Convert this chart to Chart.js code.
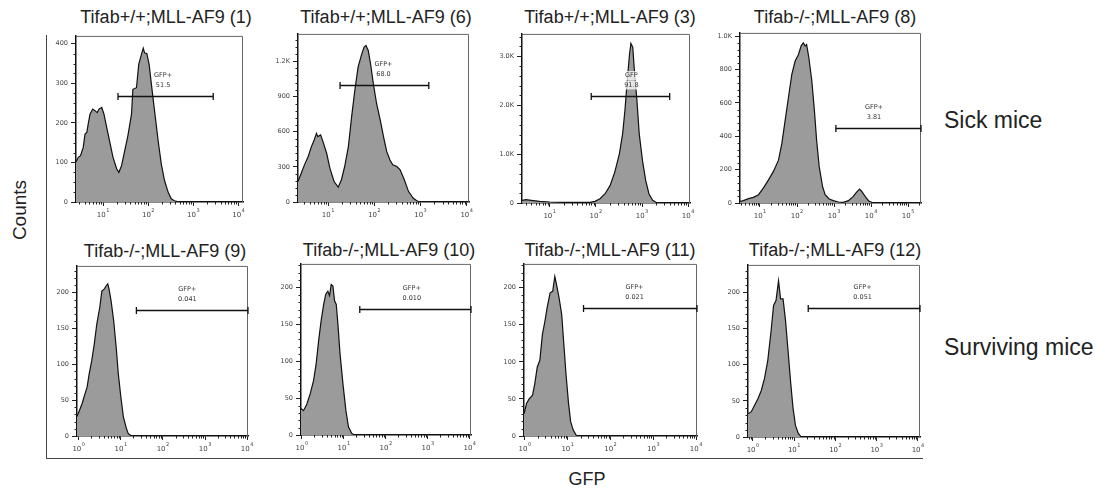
<!DOCTYPE html>
<html>
<head>
<meta charset="utf-8">
<script src="https://cdn.jsdelivr.net/npm/chart.js@4.4.1/dist/chart.umd.min.js"></script>
<style>
body{margin:0;background:#fff;}
#fig{position:relative;width:1105px;height:490px;overflow:hidden;font-family:"Liberation Sans",Arial,sans-serif;color:#222;}
#fig canvas{position:absolute;}
.t{position:absolute;font-size:18px;white-space:nowrap;transform:translateX(-50%);line-height:normal;}
.side{position:absolute;font-size:23px;white-space:nowrap;line-height:normal;}
#frame{position:absolute;left:46px;top:35px;width:876px;height:423px;border-left:1.5px solid #444;border-bottom:1.5px solid #444;}
</style>
</head>
<body>
<div id="fig">
<div id="frame"></div>
<div class="side" style="left:20px;top:210px;font-size:19px;transform:translate(-50%,-50%) rotate(-90deg);">Counts</div>
<div class="t" style="left:587px;top:469px;">GFP</div>
<div class="side" style="left:944px;top:107px;">Sick mice</div>
<div class="side" style="left:944px;top:334px;">Surviving mice</div>
</div>
<script>
const titles=["Tifab+/+;MLL-AF9 (1)","Tifab+/+;MLL-AF9 (6)","Tifab+/+;MLL-AF9 (3)","Tifab-/-;MLL-AF9 (8)",
"Tifab-/-;MLL-AF9 (9)","Tifab-/-;MLL-AF9 (10)","Tifab-/-;MLL-AF9 (11)","Tifab-/-;MLL-AF9 (12)"];

// GFP on log10 scale (decades), counts per bin
const x1=[0.40,0.45,0.50,0.56,0.60,0.64,0.67,0.71,0.77,0.82,0.87,0.91,0.97,1.02,1.08,1.15,1.22,1.30,1.35,1.41,1.48,1.55,1.63,1.66,1.74,1.79,1.83,1.89,1.92,1.97,2.02,2.07,2.14,2.22,2.29,2.36,2.44,2.51,2.58,2.69,4.10];
const c1=[101,113,117,138,172,176,197,222,235,231,226,235,239,222,189,151,113,84,75,92,130,168,222,285,289,348,365,389,377,375,348,298,231,155,96,55,25,8,3,0,0];
const x2=[0.35,0.42,0.49,0.57,0.64,0.70,0.75,0.78,0.84,0.89,0.97,1.04,1.13,1.22,1.29,1.36,1.44,1.51,1.58,1.65,1.73,1.78,1.82,1.87,1.92,1.98,2.05,2.13,2.20,2.27,2.34,2.40,2.49,2.56,2.65,2.74,2.84,2.92,2.99,4.05];
const c2=[175,246,317,388,473,529,586,558,572,515,416,289,175,127,190,303,473,727,954,1152,1265,1322,1336,1293,1180,1010,841,699,558,430,359,317,303,275,190,91,34,11,0,0];
const x3=[0.40,0.49,0.60,0.78,1.00,1.29,1.65,1.87,1.98,2.09,2.20,2.31,2.41,2.51,2.58,2.63,2.68,2.73,2.76,2.80,2.83,2.89,2.94,3.01,3.08,3.15,3.23,3.32,3.43,4.04];
const c3=[54,68,54,34,20,14,14,14,34,88,190,360,632,1006,1414,1890,2502,3046,3264,3182,2774,2094,1414,870,462,190,54,7,0,0];
const x4=[0.46,0.55,0.69,0.82,0.96,1.09,1.23,1.36,1.50,1.59,1.68,1.77,1.86,1.95,2.04,2.11,2.17,2.22,2.26,2.32,2.40,2.47,2.53,2.60,2.69,2.76,2.87,2.98,3.12,3.25,3.39,3.52,3.61,3.69,3.75,3.84,3.93,4.06,5.35];
const c4=[10,14,26,34,50,89,139,188,257,356,495,634,772,851,891,941,960,941,950,871,733,554,376,218,99,50,24,14,6,4,14,40,65,83,69,40,14,0,0];
const x5=[-0.04,0.02,0.08,0.14,0.20,0.25,0.31,0.37,0.43,0.50,0.55,0.61,0.65,0.69,0.72,0.77,0.83,0.89,0.94,1.00,1.06,1.13,1.18,1.26,4.02];
const c5=[27,36,45,57,68,87,105,128,156,179,202,205,209,212,205,188,161,124,87,55,27,11,3,0,0];
const x6=[-0.02,0.04,0.12,0.20,0.28,0.34,0.40,0.46,0.52,0.57,0.62,0.66,0.70,0.74,0.78,0.82,0.86,0.91,0.98,1.05,1.11,1.19,1.27,4.03];
const c6=[36,33,42,56,74,96,128,155,177,191,195,189,204,202,182,177,150,110,69,33,11,2,0,0];
const x7=[-0.02,0.04,0.10,0.18,0.23,0.29,0.35,0.41,0.47,0.52,0.59,0.65,0.70,0.74,0.80,0.86,0.91,0.96,1.02,1.07,1.13,1.21,4.02];
const c7=[30,44,50,55,70,93,102,137,155,173,193,195,215,204,186,164,124,84,44,19,8,0,0];
const x8=[-0.12,-0.04,0.04,0.12,0.20,0.28,0.36,0.44,0.50,0.56,0.62,0.67,0.73,0.79,0.85,0.91,0.97,1.03,1.10,1.17,4.05];
const c8=[32,35,44,53,64,81,106,147,182,189,216,191,191,161,120,78,41,16,5,0,0];

const gateNames=["GFP+","GFP+","GFP","GFP+","GFP+","GFP+","GFP+","GFP+"];
const gateValues=["51.5","68.0","91.8","3.81","0.041","0.010","0.021","0.051"];
const gateFrom=[1.33,1.26,1.90,3.05,1.37,1.38,1.37,1.34];
const gateTo=[3.44,3.18,3.60,5.35,4.02,4.03,4.02,4.05];
const gateAt=[268,1000,2190,450,176,171,172,178];
const gateLabelX=[2.33,2.20,2.77,4.08,2.58,2.62,2.56,2.66];

const xMin=[0.40,0.35,0.40,0.46,-0.04,-0.02,-0.02,-0.12];
const xMax=[4.10,4.05,4.04,5.35,4.02,4.03,4.02,4.05];
const yMax=[420,1435,3457,1020,237,232,232,238];

const decadeBase="10";
const decadeExp=["0","1","2","3","4","5"];
const xTicks=[[1,2,3,4],[1,2,3,4],[1,2,3,4],[1,2,3,4,5],[0,1,2,3,4],[0,1,2,3,4],[0,1,2,3,4],[0,1,2,3,4]];
const yTicks=[[0,100,200,300,400],[0,300,600,900,1200],[0,1000,2000,3000],[0,200,400,600,800,1000],
[0,50,100,150,200],[0,50,100,150,200],[0,50,100,150,200],[0,50,100,150,200]];
const yTickLabels=[["0","100","200","300","400"],["0","300","600","900","1.2K"],["0","1.0K","2.0K","3.0K"],
["0","200","400","600","800","1.0K"],["0","50","100","150","200"],["0","50","100","150","200"],["0","50","100","150","200"],["0","50","100","150","200"]];
const yMinor=[25,60,200,40,10,10,10,10];

const xs=[x1,x2,x3,x4,x5,x6,x7,x8];
const cs=[c1,c2,c3,c4,c5,c6,c7,c8];

// plot area boxes: left, top, right, bottom
const boxes=[[76,35,243,202],[298,33,469,202],[522,33,690,203],[740,32,921,203],
[77,265,248,436],[301,263,471,435],[524,263,697,436],[748,264,920,437]];
const titleX=[166,386,610,835,165,389,610,835];
const titleTop=[7,7,7,7,241,240,240,240];

Chart.defaults.font.family='"DejaVu Sans", sans-serif';
Chart.defaults.color='#444';

const framePlugin={
id:'frame',
afterDraw(chart){
const {ctx,chartArea:a,scales:{x,y}}=chart;
const p=chart.options.plugins.frame;
ctx.save();
ctx.strokeStyle='#666';ctx.lineWidth=1;
ctx.beginPath();
ctx.moveTo(a.left,a.top+0.5);ctx.lineTo(a.right-0.5,a.top+0.5);ctx.lineTo(a.right-0.5,a.bottom);
ctx.stroke();
ctx.strokeStyle='#222';ctx.lineWidth=1;
ctx.beginPath();
for(let n=Math.floor(x.min);n<=Math.ceil(x.max);n++){
for(let k=2;k<=9;k++){
const v=n+Math.log10(k);
if(v<x.min||v>x.max)continue;
const px=Math.round(x.getPixelForValue(v))+0.5;
ctx.moveTo(px,a.bottom);ctx.lineTo(px,a.bottom+2.5);
}
}
for(let v=p.minor;v<y.max;v+=p.minor){
if(p.major.includes(v))continue;
const py=Math.round(y.getPixelForValue(v))+0.5;
ctx.moveTo(a.left,py);ctx.lineTo(a.left-2.5,py);
}
ctx.stroke();
// decade labels: 10 with raised exponent
ctx.fillStyle='#444';ctx.textBaseline='alphabetic';
p.xt.forEach(v=>{
const px=x.getPixelForValue(v);
ctx.font='7px "DejaVu Sans"';
const wb=ctx.measureText(decadeBase).width;
ctx.font='5px "DejaVu Sans"';
const we=ctx.measureText(decadeExp[v]).width;
const x0=px-(wb+we+0.5)/2;
ctx.font='7px "DejaVu Sans"';ctx.textAlign='left';
ctx.fillText(decadeBase,x0,a.bottom+15);
ctx.font='5px "DejaVu Sans"';
ctx.fillText(decadeExp[v],x0+wb+0.5,a.bottom+10);
});
ctx.restore();
}
};

const gatePlugin={
id:'gate',
afterDraw(chart){
const g=chart.options.plugins.gate;
const {ctx,scales:{x,y}}=chart;
const p1=x.getPixelForValue(g.from),p2=x.getPixelForValue(g.to),py=Math.round(y.getPixelForValue(g.at))+0.5;
ctx.save();
ctx.strokeStyle='#111';ctx.lineWidth=1.3;
ctx.beginPath();
ctx.moveTo(p1,py);ctx.lineTo(p2,py);
ctx.moveTo(p1,py-3.5);ctx.lineTo(p1,py+3.5);
ctx.moveTo(p2,py-3.5);ctx.lineTo(p2,py+3.5);
ctx.stroke();
ctx.font='6.5px "DejaVu Sans"';ctx.textAlign='center';ctx.textBaseline='middle';
const lx=x.getPixelForValue(g.labelX);
[g.name,g.value].forEach((s,i)=>{
const yy=py-21+i*9.5;
const w=ctx.measureText(s).width;
ctx.fillStyle='rgba(255,255,255,0.75)';
ctx.fillRect(lx-w/2-1,yy-4.5,w+2,9);
ctx.fillStyle='#333';
ctx.fillText(s,lx,yy);
});
ctx.restore();
}
};

const fig=document.getElementById('fig');
const padL=32,padT=6,padR=10,padB=22;

boxes.forEach((b,i)=>{
const t=document.createElement('div');
t.className='t';t.textContent=titles[i];
t.style.left=titleX[i]+'px';t.style.top=titleTop[i]+'px';
fig.appendChild(t);

const cv=document.createElement('canvas');
const w=b[2]-b[0]+padL+padR,h=b[3]-b[1]+padT+padB;
cv.width=w;cv.height=h;
cv.style.left=(b[0]-padL)+'px';cv.style.top=(b[1]-padT)+'px';
cv.style.width=w+'px';cv.style.height=h+'px';
fig.appendChild(cv);

new Chart(cv,{
type:'line',
data:{datasets:[{
data:xs[i].map((v,k)=>({x:v,y:cs[i][k]})),
borderColor:'#111',borderWidth:1.2,backgroundColor:'#9b9b9b',
fill:'origin',pointRadius:0,tension:0
}]},
options:{
responsive:false,animation:false,
layout:{padding:{left:0,top:padT,right:padR,bottom:0}},
plugins:{legend:{display:false},tooltip:{enabled:false},
frame:{minor:yMinor[i],major:yTicks[i],xt:xTicks[i]},
gate:{from:gateFrom[i],to:gateTo[i],at:gateAt[i],labelX:gateLabelX[i],name:gateNames[i],value:gateValues[i]}},
scales:{
x:{type:'linear',min:xMin[i],max:xMax[i],z:1,
afterBuildTicks:s=>{s.ticks=xTicks[i].map(v=>({value:v}));},
afterFit:s=>{s.height=padB;},
ticks:{display:false},
grid:{drawOnChartArea:false,tickLength:4,color:'#222'},
border:{display:true,color:'#111',width:1.5}},
y:{type:'linear',min:0,max:yMax[i],z:1,
afterBuildTicks:s=>{s.ticks=yTicks[i].map(v=>({value:v}));},
afterFit:s=>{s.width=padL;},
ticks:{autoSkip:false,padding:3,font:{size:6.5},color:'#444',callback:v=>yTickLabels[i][yTicks[i].indexOf(v)]},
grid:{drawOnChartArea:false,tickLength:5,color:'#222'},
border:{display:true,color:'#111',width:1.5}}
}
},
plugins:[framePlugin,gatePlugin]
});
});
</script>
</body>
</html>
